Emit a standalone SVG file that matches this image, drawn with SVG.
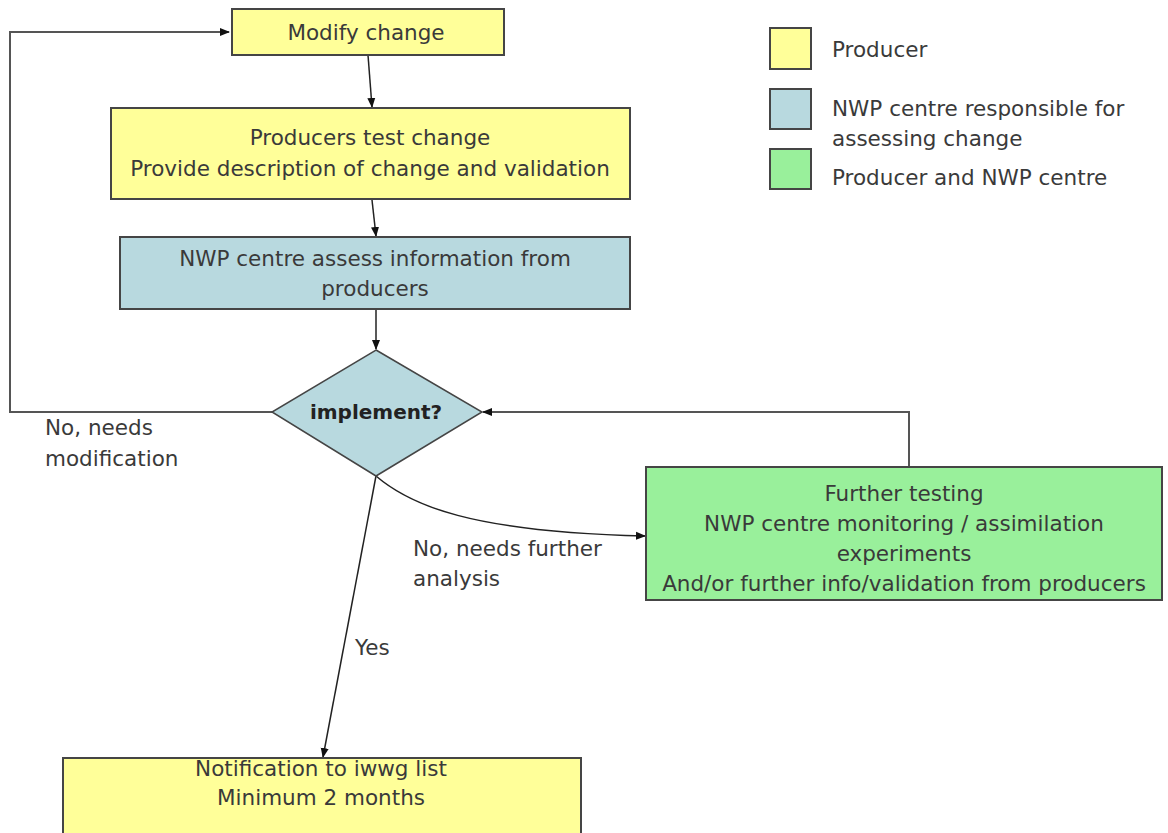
<svg xmlns="http://www.w3.org/2000/svg" width="1168" height="833" viewBox="0 0 1168 833">
<defs>
<marker id="ah" viewBox="0 0 10 10" refX="9" refY="5" markerWidth="10" markerHeight="10" markerUnits="userSpaceOnUse" orient="auto">
<path d="M0,1 L10,5 L0,9 Z" fill="#111"/>
</marker>
<style>
.box{stroke:#454545;stroke-width:2}
.y{fill:#ffff99}
.b{fill:#b8d9df}
.g{fill:#99f09b}
text{font-family:"DejaVu Sans",Verdana,sans-serif;font-size:21.5px;fill:#3a3a3a}
.c{text-anchor:middle}
.ln{fill:none;stroke:#222;stroke-width:1.5}
.gl{fill:none;stroke:#555;stroke-width:2}
</style>
</defs>
<rect width="1168" height="833" fill="#fff"/>
<g id="connectors">
<polyline class="gl" points="272,412 10,412 10,32 229,32" marker-end="url(#ah)"/>
<line class="ln" x1="368" y1="55" x2="372" y2="107" marker-end="url(#ah)"/>
<line class="ln" x1="372" y1="200" x2="376" y2="236" marker-end="url(#ah)"/>
<line class="ln" x1="376" y1="309" x2="376" y2="349" marker-end="url(#ah)"/>
<polyline class="gl" points="909,467 909,412 483,412" marker-end="url(#ah)"/>
<path class="ln" d="M376,476 C410,505 470,532 645,536" marker-end="url(#ah)"/>
<line class="ln" x1="376" y1="476" x2="323" y2="757" marker-end="url(#ah)"/>
</g>
<g id="modify">
<rect class="box y" x="232" y="9" width="272" height="46"/>
<text class="c" x="366" y="40">Modify change</text>
</g>
<g id="test">
<rect class="box y" x="111" y="108" width="519" height="91"/>
<text class="c" x="370" y="145">Producers test change</text>
<text class="c" x="370" y="176">Provide description of change and validation</text>
</g>
<g id="assess">
<rect class="box b" x="120" y="237" width="510" height="72"/>
<text class="c" x="375" y="266">NWP centre assess information from</text>
<text class="c" x="375" y="296">producers</text>
</g>
<g id="decision">
<polygon class="b" points="376,350 482,412 376,476 272,412" stroke="#454545" stroke-width="1.5"/>
<text class="c" x="376" y="419" style="font-weight:bold;font-size:20px;fill:#222">implement?</text>
</g>
<g id="further">
<rect class="box g" x="646" y="467" width="516" height="133"/>
<text class="c" x="904" y="501">Further testing</text>
<text class="c" x="904" y="531">NWP centre monitoring / assimilation</text>
<text class="c" x="904" y="561">experiments</text>
<text class="c" x="904" y="591">And/or further info/validation from producers</text>
</g>
<g id="notify">
<rect class="box y" x="63" y="758" width="518" height="90"/>
<text class="c" x="321" y="776">Notification to iwwg list</text>
<text class="c" x="321" y="805">Minimum 2 months</text>
</g>
<g id="labels">
<text x="45" y="435">No, needs</text>
<text x="45" y="466">modification</text>
<text x="413" y="556">No, needs further</text>
<text x="413" y="586">analysis</text>
<text x="355" y="655">Yes</text>
</g>
<g id="legend">
<rect class="box y" x="770" y="28" width="41" height="41"/>
<text x="832" y="57">Producer</text>
<rect class="box b" x="770" y="89" width="41" height="40"/>
<text x="832" y="116">NWP centre responsible for</text>
<text x="832" y="146">assessing change</text>
<rect class="box g" x="770" y="149" width="41" height="40"/>
<text x="832" y="185">Producer and NWP centre</text>
</g>
</svg>
